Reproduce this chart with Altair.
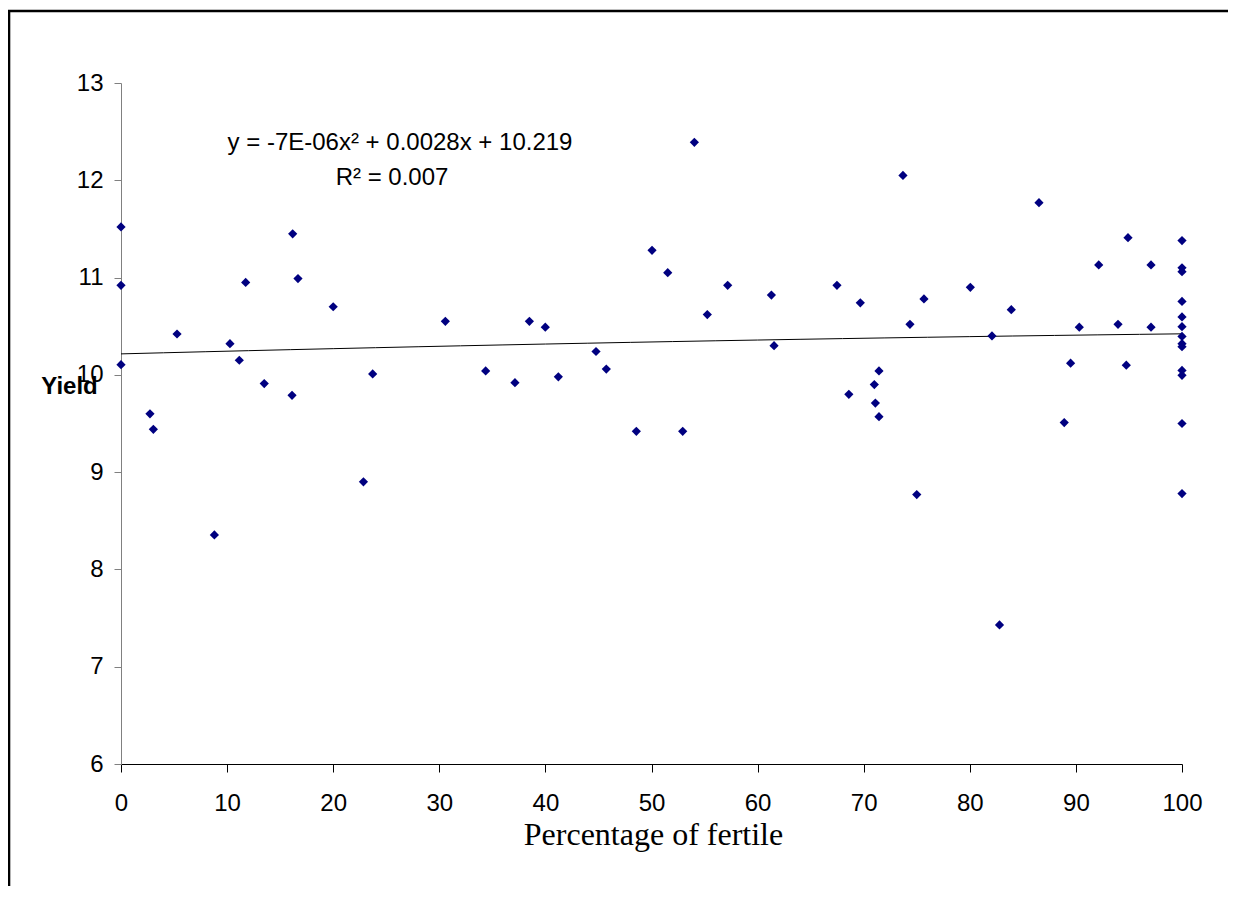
import altair as alt
import pandas as pd

# Percentage of fertile (x) and Yield (y)
pct = [0, 0, 0, 2.73, 3.05, 5.28, 8.8, 10.27, 11.15, 11.75, 13.5, 16.12, 16.18, 16.68,
       20.0, 22.85, 23.72, 30.57, 34.37, 37.13, 38.49, 39.99, 41.22, 44.77, 45.74,
       48.57, 50.05, 51.53, 52.94, 54.04, 55.26, 57.18, 61.3, 61.55, 67.48, 68.6,
       69.68, 71.0, 71.1, 71.44, 71.44, 73.7, 74.36, 75.0, 75.68, 80.05, 82.09, 82.8,
       83.91, 86.52, 88.9, 89.5, 90.32, 92.15, 93.97, 94.75, 94.91, 97.08, 97.08,
       100, 100, 100, 100, 100, 100, 100, 100, 100, 100, 100, 100, 100]
yield_vals = [11.52, 10.92, 10.105, 9.60, 9.44, 10.42, 8.355, 10.32, 10.15, 10.95, 9.91,
              9.79, 11.45, 10.99, 10.70, 8.90, 10.01, 10.55, 10.04, 9.92, 10.55, 10.49,
              9.98, 10.24, 10.06, 9.42, 11.28, 11.05, 9.42, 12.39, 10.62, 10.92, 10.82,
              10.30, 10.92, 9.80, 10.74, 9.90, 9.71, 10.04, 9.57, 12.05, 10.52, 8.77,
              10.78, 10.90, 10.40, 7.43, 10.67, 11.77, 9.51, 10.12, 10.49, 11.13, 10.52,
              10.10, 11.41, 11.13, 10.49,
              11.38, 11.10, 11.06, 10.755, 10.595, 10.495, 10.395, 10.32, 10.29, 10.046,
              9.995, 9.50, 8.78]

x_ticks = [0, 10, 20, 30, 40, 50, 60, 70, 80, 90, 100]
y_ticks = [6, 7, 8, 9, 10, 11, 12, 13]
eq_lines = ["y = -7E-06x² + 0.0028x + 10.219", "R² = 0.007"]
x_title = "Percentage of fertile"
y_title = "Yield"

df = pd.DataFrame({"x": pct, "y": yield_vals})

SANS = "Liberation Sans, Arial, sans-serif"
SERIF = "Liberation Serif, Times New Roman, serif"

x_enc = alt.X(
    "x:Q",
    scale=alt.Scale(domain=[0, 100], nice=False, zero=False),
    axis=alt.Axis(
        values=x_ticks, format="d", grid=False, tickSize=8, tickColor="black",
        domainColor="black",
        labelFont=SANS, labelFontSize=24, labelColor="black", labelBaseline="alphabetic",
        labelPadding=38, labelFlush=False, labelOverlap=False,
        title=x_title, titleFont=SERIF, titleFontSize=32, titleFontWeight="normal",
        titleColor="black", titleX=532, titleY=80, titleAlign="center",
        titleBaseline="alphabetic",
    ),
)
y_enc = alt.Y(
    "y:Q",
    scale=alt.Scale(domain=[6, 13], nice=False, zero=False),
    axis=alt.Axis(
        values=y_ticks, format="d", grid=False, tickSize=7, tickColor="#808080",
        domainColor="#808080",
        labelFont=SANS, labelFontSize=24, labelColor="black", labelBaseline="middle",
        labelPadding=11, labelFlush=False, labelOverlap=False,
        title=y_title, titleFont=SANS, titleFontSize=24, titleFontWeight="bold",
        titleColor="black", titleAngle=0, titleX=-52, titleY=310, titleAlign="center",
        titleBaseline="alphabetic",
    ),
)

base = alt.Chart(df)

points = base.mark_point(shape="diamond", filled=True, size=85, color="#000080",
                         opacity=1, strokeWidth=0).encode(x=x_enc, y=y_enc)

trend = base.transform_regression("x", "y", method="poly", order=2).mark_line(
    color="black", strokeWidth=1).encode(x="x:Q", y="y:Q")

one = alt.Data(values=[{"k": 1}])
eq1 = alt.Chart(one).mark_text(text=eq_lines[0], font=SANS, fontSize=24, color="black",
                               align="center", baseline="alphabetic").encode(
    x=alt.value(279), y=alt.value(67))
eq2 = alt.Chart(one).mark_text(text=eq_lines[1], font=SANS, fontSize=24, color="black",
                               align="center", baseline="alphabetic").encode(
    x=alt.value(271), y=alt.value(102))

frame_left = alt.Chart(one).mark_rule(color="black", strokeWidth=2.6).encode(
    x=alt.value(-112), y=alt.value(-72), y2=alt.value(900))
frame_top = alt.Chart(one).mark_rule(color="black", strokeWidth=2.6).encode(
    x=alt.value(-113), x2=alt.value(1200), y=alt.value(-72))

chart = alt.layer(frame_left, frame_top, trend, points, eq1, eq2).properties(
    width=1061, height=681,
    padding={"left": 113, "top": 75, "right": 46, "bottom": 122},
    autosize=alt.AutoSizeParams(type="none"),
    background="white",
).configure_view(stroke="transparent")

chart.save("out.html", embed_options={"renderer": "svg", "actions": False})
